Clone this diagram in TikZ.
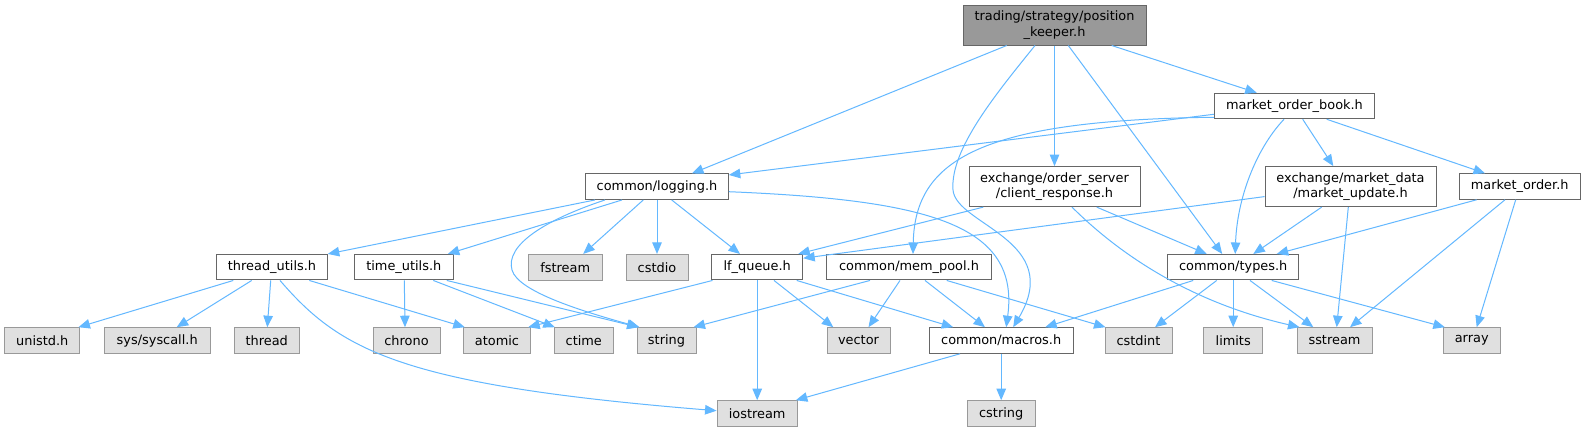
\documentclass[tikz,border=0pt]{standalone}
\usepackage{fontspec}
\setmainfont{DejaVu Sans}
\usetikzlibrary{arrows.meta}
\definecolor{edgeblue}{HTML}{63B8FF}
\definecolor{bordergray}{HTML}{666666}
\definecolor{lightborder}{HTML}{999999}
\definecolor{lightfill}{HTML}{E0E0E0}
\definecolor{rootfill}{HTML}{999999}
\begin{document}
\begin{tikzpicture}[x=1pt,y=-1pt,
  every node/.style={font=\fontsize{12.9}{15.6}\selectfont, inner sep=0pt, align=center, line width=1pt},
  wnode/.style={draw=bordergray, fill=white, minimum height=25.5pt},
  gnode/.style={draw=lightborder, fill=lightfill, minimum height=25.6pt},
  rnode/.style={draw=bordergray, fill=rootfill, minimum height=40pt},
  tnode/.style={draw=bordergray, fill=white, minimum height=40pt},
  dep/.style={draw=edgeblue, line width=1pt, -{Triangle[length=11.5pt,width=9.5pt]}}]
\fill[white] (0,0) rectangle (1585,432);
\useasboundingbox (0,0) rectangle (1585,432);
% row 1
\node[rnode, minimum width=183pt] (pk) at (1054.5,25) {trading/strategy/position\\\_keeper.h};
% row 2
\node[wnode, minimum width=160pt] (mob) at (1294.5,106) {market\_order\_book.h};
% row 3
\node[wnode, minimum width=142.6pt] (log) at (657,186.7) {common/logging.h};
\node[tnode, minimum width=171pt] (cr) at (1054.5,186.6) {exchange/order\_server\\/client\_response.h};
\node[tnode, minimum width=171pt] (mu) at (1350.5,186.6) {exchange/market\_data\\/market\_update.h};
\node[wnode, minimum width=120.7pt] (mo) at (1519.7,186.5) {market\_order.h};
% row 4
\node[wnode, minimum width=110.6pt] (tu) at (272,267.2) {thread\_utils.h};
\node[wnode, minimum width=99pt] (tmu) at (403.8,267.2) {time\_utils.h};
\node[gnode, minimum width=73.7pt] (fst) at (565.2,267.2) {fstream};
\node[gnode, minimum width=62pt] (cstdio) at (657,267.2) {cstdio};
\node[wnode, minimum width=91pt] (lfq) at (757.2,267.2) {lf\_queue.h};
\node[wnode, minimum width=164.6pt] (mp) at (909,267.2) {common/mem\_pool.h};
\node[wnode, minimum width=131pt] (types) at (1233.2,267.2) {common/types.h};
% row 5
\node[gnode, minimum width=75.3pt] (unistd) at (42.3,340.5) {unistd.h};
\node[gnode, minimum width=105.7pt] (sys) at (157.2,340.5) {sys/syscall.h};
\node[gnode, minimum width=64.7pt] (thread) at (266.7,340.5) {thread};
\node[gnode, minimum width=67pt] (chrono) at (406.5,340.5) {chrono};
\node[gnode, minimum width=67.4pt] (atomic) at (497,340.5) {atomic};
\node[gnode, minimum width=59pt] (ctime) at (583.8,340.5) {ctime};
\node[gnode, minimum width=59pt] (string) at (666.5,340.5) {string};
\node[gnode, minimum width=63pt] (vector) at (858.5,340.5) {vector};
\node[wnode, minimum width=143.7pt, minimum height=25.6pt] (mac) at (1001.2,340.5) {common/macros.h};
\node[gnode, minimum width=67pt] (cstdint) at (1138.5,340.5) {cstdint};
\node[gnode, minimum width=59pt] (limits) at (1233.2,340.5) {limits};
\node[gnode, minimum width=75pt] (sstream) at (1334.5,340.5) {sstream};
\node[gnode, minimum width=56.7pt] (array) at (1471.7,340.5) {array};
% row 6
\node[gnode, minimum width=80.3pt, minimum height=26pt] (ios) at (757.2,413.7) {iostream};
\node[gnode, minimum width=67.7pt, minimum height=26pt] (cstring) at (1001.2,413.7) {cstring};
% edges from position_keeper
\draw[dep] ([xshift=-47.8pt]pk.south) -- ([xshift=35pt]log.north);
\draw[dep] ([xshift=-19.5pt]pk.south) .. controls (995,95) and (950,150) .. (953,190) .. controls (956,225) and (1065,240) .. ([xshift=12pt]mac.north);
\draw[dep] (pk.south) -- (cr.north);
\draw[dep] ([xshift=13.8pt]pk.south) -- ([xshift=-11pt]types.north);
\draw[dep] ([xshift=57.2pt]pk.south) -- ([xshift=-37.8pt]mob.north);
% market_order_book
\draw[dep] ([yshift=5pt]mob.south west) -- ([yshift=-1.5pt]log.north east);
\draw[dep] ([yshift=2pt]mob.south west) .. controls (980,120) and (915,160) .. ([xshift=4pt]mp.north);
\draw[dep] ([xshift=-10.5pt]mob.south) .. controls (1255,150) and (1237,200) .. ([xshift=2pt]types.north);
\draw[dep] ([xshift=8.2pt]mob.south) -- ([xshift=-17.2pt]mu.north);
\draw[dep] ([xshift=32.2pt]mob.south) -- ([xshift=-34.7pt]mo.north);
% logging
\draw[dep] ([xshift=-62pt]log.south) -- (tu.north east);
\draw[dep] ([xshift=-35pt]log.south) -- ([xshift=-6pt]tmu.north east);
\draw[dep] ([xshift=-52pt]log.south) .. controls (545,220) and (505,245) .. (512,270) .. controls (518,292) and (585,312) .. ([xshift=3pt]string.north west);
\draw[dep] ([xshift=-13.7pt]log.south) -- ([xshift=18pt]fst.north);
\draw[dep] (log.south) -- (cstdio.north);
\draw[dep] ([xshift=14.7pt]log.south) -- ([xshift=-17.2pt]lfq.north);
\draw[dep] ([yshift=-5pt]log.east) .. controls (930,200) and (1020,225) .. ([xshift=5pt]mac.north);
% client_response
\draw[dep] ([xshift=-71.2pt]cr.south) -- ([xshift=-5pt]lfq.north east);
\draw[dep] ([xshift=42.2pt]cr.south) -- ([xshift=-26.5pt]types.north);
\draw[dep] ([xshift=17.5pt]cr.south) .. controls (1110,245) and (1180,300) .. ([xshift=3pt]sstream.north west);
% market_update
\draw[dep] ([yshift=-10pt]mu.west) -- ([yshift=9pt]lfq.east);
\draw[dep] ([xshift=-28.8pt]mu.south) -- ([xshift=20.1pt]types.north);
\draw[dep] ([xshift=-2.2pt]mu.south) -- ([xshift=2.2pt]sstream.north);
% market_order
\draw[dep] ([xshift=-43pt]mo.south) -- ([xshift=43.5pt]types.north);
\draw[dep] ([xshift=-14.7pt]mo.south) -- ([xshift=15.5pt]sstream.north);
\draw[dep] ([xshift=-4pt]mo.south) -- ([xshift=5pt]array.north);
% types
\draw[dep] ([xshift=-40pt]types.south) -- ([xshift=44pt]mac.north);
\draw[dep] ([xshift=-16.5pt]types.south) -- ([xshift=16.5pt]cstdint.north);
\draw[dep] (types.south) -- (limits.north);
\draw[dep] ([xshift=16.8pt]types.south) -- ([xshift=-21.2pt]sstream.north);
\draw[dep] ([xshift=38.5pt]types.south) -- ([xshift=2pt]array.north west);
% mem_pool
\draw[dep] ([xshift=-39pt]mp.south) -- ([xshift=-3pt]string.north east);
\draw[dep] ([xshift=-9pt]mp.south) -- ([xshift=10pt]vector.north);
\draw[dep] ([xshift=16pt]mp.south) -- ([xshift=-16.2pt]mac.north);
\draw[dep] ([xshift=37.7pt]mp.south) -- ([xshift=1pt]cstdint.north west);
% lf_queue
\draw[dep] ([xshift=1.3pt]lfq.south west) -- ([xshift=-3pt]atomic.north east);
\draw[dep] ([xshift=16.8pt]lfq.south) -- ([xshift=-25.2pt]vector.north);
\draw[dep] (lfq.south) -- (ios.north);
\draw[dep] ([xshift=39.5pt]lfq.south) -- ([xshift=-48pt]mac.north);
% thread_utils
\draw[dep] ([xshift=-38.7pt]tu.south) -- ([xshift=-2pt]unistd.north east);
\draw[dep] ([xshift=-20.3pt]tu.south) -- ([xshift=19.5pt]sys.north);
\draw[dep] ([xshift=-1.3pt]tu.south) -- ([xshift=0.6pt]thread.north);
\draw[dep] ([xshift=37.3pt]tu.south) -- ([xshift=2pt]atomic.north west);
\draw[dep] ([xshift=8pt]tu.south) .. controls (340,350) and (400,385) .. ([yshift=3pt]ios.west);
% time_utils
\draw[dep] ([xshift=0.5pt]tmu.south) -- ([xshift=-1.5pt]chrono.north);
\draw[dep] ([xshift=29.5pt]tmu.south) -- ([xshift=1pt]ctime.north west);
\draw[dep] ([xshift=43pt]tmu.south) -- ([xshift=2pt]string.north west);
% macros
\draw[dep] ([xshift=-41.2pt]mac.south) -- ([xshift=-2pt]ios.north east);
\draw[dep] (mac.south) -- (cstring.north);
\end{tikzpicture}
\end{document}
